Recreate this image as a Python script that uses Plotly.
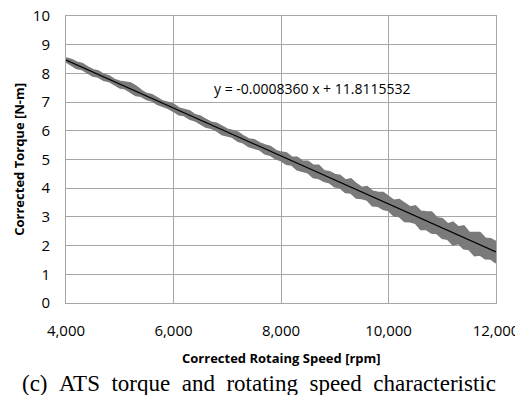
import plotly.graph_objects as go

speed_rpm = list(range(4000, 12001, 100))
torque_upper = [8.53, 8.48, 8.38, 8.34, 8.22, 8.12, 8.08, 7.96, 7.90, 7.78,
                7.72, 7.68, 7.66, 7.55, 7.40, 7.29, 7.25, 7.14, 7.03, 6.98,
                6.92, 6.79, 6.74, 6.68, 6.55, 6.50, 6.39, 6.29, 6.26, 6.15,
                6.05, 6.00, 5.94, 5.81, 5.71, 5.68, 5.57, 5.50, 5.45, 5.31,
                5.25, 5.22, 5.08, 5.07, 4.94, 4.93, 4.79, 4.79, 4.60, 4.57,
                4.47, 4.44, 4.28, 4.32, 4.15, 4.02, 4.05, 3.89, 3.85, 3.84,
                3.70, 3.57, 3.60, 3.47, 3.34, 3.38, 3.19, 3.17, 3.16, 2.96,
                2.93, 2.75, 2.81, 2.64, 2.68, 2.45, 2.44, 2.45, 2.25, 2.23,
                2.13]
torque_lower = [8.41, 8.29, 8.18, 8.14, 8.03, 7.92, 7.88, 7.77, 7.73, 7.62,
                7.51, 7.47, 7.36, 7.24, 7.21, 7.10, 7.05, 6.93, 6.86, 6.79,
                6.69, 6.57, 6.54, 6.42, 6.36, 6.25, 6.14, 6.10, 6.01, 5.88,
                5.83, 5.78, 5.64, 5.59, 5.46, 5.40, 5.35, 5.21, 5.16, 5.03,
                4.97, 4.84, 4.82, 4.65, 4.61, 4.55, 4.38, 4.35, 4.25, 4.20,
                4.06, 4.02, 3.86, 3.84, 3.67, 3.65, 3.60, 3.40, 3.38, 3.27,
                3.23, 3.05, 3.02, 2.85, 2.84, 2.79, 2.57, 2.57, 2.45, 2.43,
                2.26, 2.23, 2.03, 2.08, 1.90, 1.87, 1.66, 1.68, 1.55, 1.54,
                1.40]

# Linear trend line shown on the chart
fit_slope = -0.0008360
fit_intercept = 11.8115532
fit_x = [4000, 12000]
fit_y = [fit_intercept + fit_slope * v for v in fit_x]

x_ticks = [4000, 6000, 8000, 10000, 12000]
y_ticks = list(range(0, 11))

band_color = "#7a7a7a"
grid_color = "#a6a6a6"

fig = go.Figure()
fig.add_trace(go.Scatter(x=speed_rpm, y=torque_lower, mode="lines",
                         line=dict(color=band_color, width=2), showlegend=False,
                         hoverinfo="skip"))
fig.add_trace(go.Scatter(x=speed_rpm, y=torque_upper, mode="lines",
                         line=dict(color=band_color, width=2), fill="tonexty",
                         fillcolor=band_color, showlegend=False, hoverinfo="skip"))
fig.add_trace(go.Scatter(x=fit_x, y=fit_y, mode="lines",
                         line=dict(color="black", width=1.2), showlegend=False))

axis_common = dict(showgrid=True, gridcolor=grid_color, gridwidth=1,
                   showline=True, linecolor=grid_color, linewidth=1, mirror=True,
                   zeroline=False, ticks="", automargin=False,
                   ticklabeloverflow="allow",
                   tickfont=dict(size=15))

# the page body adds an 8px offset; size and margins compensate for it
fig.update_layout(
    template="none",
    width=515, height=387,
    margin=dict(l=58, r=27, t=8, b=92, pad=0),
    paper_bgcolor="white", plot_bgcolor="white",
    font=dict(family="Open Sans", size=15, color="black"),
    xaxis=dict(range=[4000, 12000], tickvals=x_ticks, tickformat=",d",
               ticklabelstandoff=14, **axis_common),
    yaxis=dict(range=[0, 10], tickvals=y_ticks,
               ticklabelstandoff=12, **axis_common),
    annotations=[
        dict(x=8577, y=7.46, xref="x", yref="y", showarrow=False,
             text="y = -0.0008360 x + 11.8115532",
             font=dict(family="Open Sans", size=14, color="black")),
        dict(x=0.5, y=-0.19, xref="paper", yref="paper", showarrow=False,
             yanchor="middle",
             text="<b>Corrected Rotaing Speed [rpm]</b>",
             font=dict(family="Open Sans", size=13, color="black")),
        dict(x=-0.111, y=0.5, xref="paper", yref="paper", showarrow=False,
             textangle=-90, xanchor="center", yanchor="middle",
             text="<b>Corrected Torque [N-m]</b>",
             font=dict(family="Open Sans", size=13, color="black")),
        dict(x=(259 - 66) / 430, y=-0.279, xref="paper", yref="paper", showarrow=False,
             xanchor="center", yanchor="middle",
             text="(c)&nbsp;&nbsp;ATS&nbsp;&nbsp;torque&nbsp;&nbsp;and&nbsp;&nbsp;rotating&nbsp;&nbsp;speed&nbsp;&nbsp;characteristic",
             font=dict(family="Liberation Serif", size=23, color="black")),
    ],
)

fig.write_html("out.html")
